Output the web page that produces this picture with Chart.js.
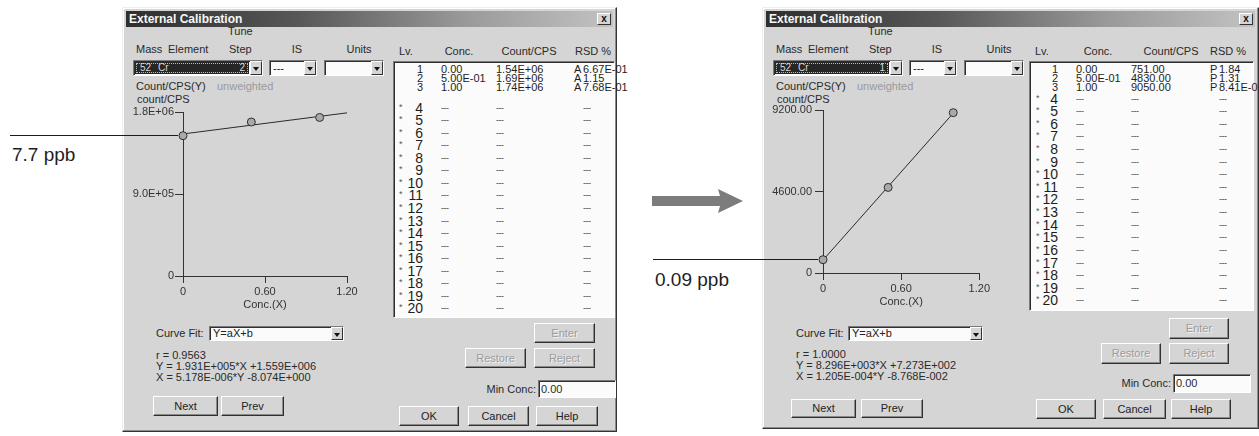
<!DOCTYPE html>
<html>
<head>
<meta charset="utf-8">
<title>External Calibration</title>
<script src="https://cdn.jsdelivr.net/npm/chart.js@4.4.1/dist/chart.umd.min.js"></script>
<style>
  html, body { margin: 0; padding: 0; background: #fff; }
  body { width: 1259px; height: 436px; position: relative; overflow: hidden;
         font-family: Arial, "Liberation Sans", sans-serif; font-size: 11px; color: #2a2a2a; }
  .abs { position: absolute; white-space: nowrap; }
  .dlg { position: absolute; background: #d5d5d5; box-sizing: border-box;
         border: 1px solid; border-color: #eeeeee #353535 #353535 #eeeeee;
         box-shadow: inset -1px -1px 0 #8c8c8c, inset 1px 1px 0 #ffffff; }
  .titlebar { position: absolute; left: 3px; top: 3px; right: 3px; height: 16px; box-sizing: border-box;
              background: linear-gradient(90deg, #2e2e2e 0%, #575757 35%, #9a9a9a 70%, #c2c2c2 100%);
              color: #f6f6f6; font-weight: bold; font-size: 12px; line-height: 16px; padding-left: 3px; }
  .closebtn { position: absolute; right: 2px; top: 2px; width: 14px; height: 12px; box-sizing: border-box;
              background: #d5d5d5; border: 1px solid; border-color: #fff #333 #333 #fff;
              font: bold 10px/9px Arial, sans-serif; text-align: center; color: #111; }
  .btn { position: absolute; box-sizing: border-box; background: #d5d5d5; text-align: center;
         border: 1px solid; border-color: #ffffff #303030 #303030 #ffffff;
         box-shadow: inset -1px -1px 0 #8a8a8a; color: #222; font-size: 11px; }
  .btn.off { color: #9c9c9c; text-shadow: 1px 1px 0 #f2f2f2; }
  .sunk { position: absolute; box-sizing: border-box; background: #fbfbfb;
          border: 1px solid; border-color: #7a7a7a #ffffff #ffffff #7a7a7a;
          box-shadow: inset 1px 1px 0 #2e2e2e; }
  .dropbtn { position: absolute; box-sizing: border-box; background: #d5d5d5;
             border: 1px solid; border-color: #ffffff #303030 #303030 #ffffff; }
  .tri { position: absolute; left: 50%; top: 50%; margin-left: -3px; margin-top: -1px; width: 0; height: 0;
         border-left: 3px solid transparent; border-right: 3px solid transparent; border-top: 4px solid #111; }
  .narrow { font-family: "Liberation Sans Narrow", "Arial Narrow", Arial, sans-serif; }
  .ppb { position: absolute; font-family: "Liberation Sans", Arial, sans-serif; font-size: 19px;
         line-height: 19px; color: #1e1e1e; white-space: nowrap; }
  canvas.plot { position: absolute; z-index: 5; pointer-events: none; }
</style>
</head>
<body>

<canvas id="plotBefore" class="plot" width="380" height="220" style="left:0px;top:100px;width:380px;height:220px"></canvas>
<canvas id="plotAfter" class="plot" width="340" height="220" style="left:652px;top:100px;width:340px;height:220px"></canvas>

<svg class="abs" style="left:648px;top:186px" width="100" height="30" viewBox="0 0 100 30">
  <polygon points="4,10 72,10 70,3 95,15 70,27 72,20 4,20" fill="#7c7c7c"/>
</svg>

<script>
// ---- calibration data ----------------------------------------------------
const levels = [1, 2, 3, 4, 5, 6, 7, 8, 9, 10, 11, 12, 13, 14, 15, 16, 17, 18, 19, 20];
const standardConc = [0.00, 0.50, 1.00];
const concLabels = ["0.00", "5.00E-01", "1.00"];

const countsBefore = [1.54e6, 1.69e6, 1.74e6];
const countLabelsBefore = ["1.54E+06", "1.69E+06", "1.74E+06"];
const flagsBefore = ["A", "A", "A"];
const rsdBefore = ["6.67E-01", "1.15", "7.68E-01"];

const countsAfter = [751.00, 4830.00, 9050.00];
const countLabelsAfter = ["751.00", "4830.00", "9050.00"];
const flagsAfter = ["P", "P", "P"];
const rsdAfter = ["1.84", "1.31", "8.41E-01"];

// fitted line Y = a*X + b for each calibration
const fitSlopes = [1.931e5, 8.296e3];
const fitIntercepts = [1.559e6, 7.273e2];
const fitTextBefore = ["r = 0.9563", "Y = 1.931E+005*X +1.559E+006", "X = 5.178E-006*Y -8.074E+000"];
const fitTextAfter = ["r = 1.0000", "Y = 8.296E+003*X +7.273E+002", "X = 1.205E-004*Y -8.768E-002"];

const xTickValues = [0, 0.6, 1.2];
const xTickLabels = ["0", "0.60", "1.20"];
const yTickValuesBefore = [0, 9.0e5, 1.8e6];
const yTickLabelsBefore = ["0", "9.0E+05", "1.8E+06"];
const yTickValuesAfter = [0, 4600, 9200];
const yTickLabelsAfter = ["0", "4600.00", "9200.00"];

const tuneSteps = ["2", "1"];
const detectionLabels = ["7.7 ppb", "0.09 ppb"];

// ---- small DOM helpers -----------------------------------------------------
function add(parent, cls, css, text) {
  const e = document.createElement('div');
  if (cls) e.className = cls;
  e.style.cssText = css;
  if (text !== undefined) e.textContent = text;
  parent.appendChild(e);
  return e;
}
function txt(p, x, cy, s, extra) { return add(p, 'abs', `left:${x}px;top:${cy - 6.5}px;line-height:13px;${extra || ''}`, s); }
function ctxt(p, cx, cy, s, extra) { return add(p, 'abs', `left:${cx - 60}px;width:120px;text-align:center;top:${cy - 6.5}px;line-height:13px;${extra || ''}`, s); }
function rtxt(p, rx, cy, s, extra) { return add(p, 'abs', `left:${rx - 120}px;width:120px;text-align:right;top:${cy - 6.5}px;line-height:13px;${extra || ''}`, s); }
function button(p, b, label, off) {
  return add(p, 'btn' + (off ? ' off' : ''), `left:${b[0]}px;top:${b[1]}px;width:${b[2]}px;height:${b[3]}px;line-height:${b[3] - 2}px`, label);
}
function combo(p, x, y, w, h, text, dark) {
  const c = add(p, 'sunk', `left:${x}px;top:${y}px;width:${w}px;height:${h}px;`);
  if (text !== undefined && !dark) add(c, 'abs', `left:3px;top:0;line-height:${h - 2}px;font-size:11px;color:#222`, text);
  const d = add(c, 'dropbtn', `right:0;top:0;width:12px;height:${h - 2}px`);
  add(d, 'tri', '');
  return c;
}

// ---- dialog builder --------------------------------------------------------
function buildDialog(L, D) {
  const dlg = add(document.body, 'dlg', `left:${L.x}px;top:${L.y}px;width:${L.w}px;height:${L.h}px`);
  const tb = add(dlg, 'titlebar', '', 'External Calibration');
  add(tb, 'closebtn', '', 'x');

  // selection header
  txt(dlg, 105, 23, 'Tune');
  txt(dlg, 13, 41, 'Mass');
  txt(dlg, 45, 41, 'Element');
  txt(dlg, 106, 41, 'Step');
  ctxt(dlg, 174, 41, 'IS');
  ctxt(dlg, 236, 41, 'Units');

  const c1 = combo(dlg, 10, 52, 130, 16, undefined, true);
  const dark = add(c1, 'abs', 'left:1px;top:1px;width:114px;height:12px;background:#262626;');
  add(dark, 'abs', 'left:1px;top:1px;right:1px;bottom:1px;border:1px dotted #bdbdbd;box-sizing:border-box;');
  add(dark, 'abs', 'left:5px;top:0;line-height:12px;font-size:10px;color:#d8d8d8', '52');
  add(dark, 'abs', 'left:23px;top:0;line-height:12px;font-size:10px;color:#d8d8d8', 'Cr');
  add(dark, 'abs', 'right:4px;top:0;line-height:12px;font-size:10px;color:#d8d8d8', D.tune);
  combo(dlg, 146, 52, 48, 16, '---');
  combo(dlg, 201, 52, 60, 16, '');

  txt(dlg, 13, 78, 'Count/CPS(Y)');
  txt(dlg, 94, 78, 'unweighted', 'color:#9a9a9a');
  txt(dlg, 14, 91, 'count/CPS');

  // level table
  const T = L.table;
  txt(dlg, T.x + 6, 43, 'Lv.');
  ctxt(dlg, T.hConc, 43, 'Conc.');
  ctxt(dlg, T.hCount, 43, 'Count/CPS');
  ctxt(dlg, T.hRsd, 43, 'RSD %');
  add(dlg, 'sunk', `left:${T.x}px;top:${T.y}px;width:${T.w}px;height:${T.h}px`);
  levels.forEach((lv, i) => {
    const filled = i < D.conc.length;
    const cy = filled ? T.rowTop[i] : T.row4 + (i - 3) * T.step;
    const fs = filled ? 11 : 14;
    if (!filled) txt(dlg, T.star, cy - 1, '*', 'font-size:9px;color:#555');
    rtxt(dlg, T.num, cy, String(lv), `font-size:${fs}px;color:#1e1e1e`).classList.add('narrow');
    if (filled) {
      const cell = 'font-size:11px;color:#1e1e1e';
      txt(dlg, T.conc, cy, D.conc[i], cell).classList.add('narrow');
      txt(dlg, T.count, cy, D.counts[i], cell).classList.add('narrow');
      txt(dlg, T.flag, cy, D.flags[i], cell).classList.add('narrow');
      txt(dlg, T.rsd, cy, D.rsd[i], cell).classList.add('narrow');
    } else {
      const dash = 'font-size:9px;color:#444;letter-spacing:-0.5px';
      txt(dlg, T.conc, cy, '---', dash);
      txt(dlg, T.count, cy, '---', dash);
      txt(dlg, T.rsd, cy, '---', dash);
    }
  });

  // right-hand buttons
  const B = L.btn;
  button(dlg, B.enter, 'Enter', true);
  button(dlg, B.restore, 'Restore', true);
  button(dlg, B.reject, 'Reject', true);
  rtxt(dlg, B.minLabel[0], B.minLabel[1], 'Min Conc:');
  const mc = add(dlg, 'sunk', `left:${B.minBox[0]}px;top:${B.minBox[1]}px;width:${B.minBox[2]}px;height:${B.minBox[3]}px`);
  add(mc, 'abs', `left:2px;top:0;line-height:${B.minBox[3] - 2}px`, '0.00');
  button(dlg, B.ok, 'OK');
  button(dlg, B.cancel, 'Cancel');
  button(dlg, B.help, 'Help');

  // curve fit block
  const F = L.fit;
  txt(dlg, 33, F.label, 'Curve Fit:');
  combo(dlg, F.box[0], F.box[1], F.box[2], F.box[3], 'Y=aX+b');
  D.fitText.forEach((s, i) => txt(dlg, 33, F.lines[i], s));
  button(dlg, F.next, 'Next');
  button(dlg, F.prev, 'Prev');
}

buildDialog({
  x: 122, y: 7, w: 495, h: 425,
  table: { x: 270, y: 53, w: 222, h: 257, hConc: 336, hCount: 406, hRsd: 470,
           rowTop: [61, 70, 79], row4: 100, step: 12.56,
           star: 276, num: 300, conc: 318, count: 373, flag: 451, rsd: 460 },
  btn: { enter: [411, 315, 61, 20], restore: [342, 340, 61, 20], reject: [411, 340, 61, 20],
         minLabel: [413, 381], minBox: [415, 372, 78, 18],
         ok: [276, 398, 60, 20], cancel: [345, 398, 61, 20], help: [413, 398, 62, 20] },
  fit: { label: 325, box: [86, 318, 135, 15], lines: [347, 358, 369], next: [30, 388, 65, 20], prev: [98, 388, 63, 20] }
}, { tune: tuneSteps[0], conc: concLabels, counts: countLabelsBefore, flags: flagsBefore, rsd: rsdBefore, fitText: fitTextBefore });

buildDialog({
  x: 762, y: 7, w: 497, h: 422,
  table: { x: 266, y: 53, w: 225, h: 250, hConc: 335, hCount: 408, hRsd: 465,
           rowTop: [61, 70, 79], row4: 91, step: 12.62,
           star: 273, num: 295, conc: 313, count: 368, flag: 447, rsd: 456 },
  btn: { enter: [406, 310, 60, 21], restore: [338, 335, 60, 21], reject: [406, 335, 60, 21],
         minLabel: [408, 375], minBox: [410, 366, 78, 19],
         ok: [273, 391, 60, 20], cancel: [340, 391, 63, 20], help: [408, 391, 60, 20] },
  fit: { label: 325, box: [85, 318, 135, 15], lines: [346, 357, 368], next: [28, 391, 65, 19], prev: [98, 391, 62, 19] }
}, { tune: tuneSteps[1], conc: concLabels, counts: countLabelsAfter, flags: flagsAfter, rsd: rsdAfter, fitText: fitTextAfter });

// detection limit captions
add(document.body, 'ppb', 'left:12px;top:145px', detectionLabels[0]);
add(document.body, 'ppb', 'left:655px;top:270px', detectionLabels[1]);

// ---- calibration plots -----------------------------------------------------
// horizontal leader from the left edge to the blank standard's marker
const leaderLine = {
  id: 'leaderLine',
  afterDatasetsDraw(chart, args, opts) {
    const pt = chart.getDatasetMeta(0).data[0];
    const ctx = chart.ctx;
    const y = Math.round(pt.y) - 0.5;
    ctx.save();
    ctx.strokeStyle = '#1c1c1c';
    ctx.lineWidth = 1;
    ctx.beginPath();
    ctx.moveTo(opts.startX, y);
    ctx.lineTo(pt.x - 5, y);
    ctx.stroke();
    ctx.restore();
  }
};

function drawCalibration(id, counts, slope, intercept, yMax, yTicks, yLabels, L) {
  const axisColor = '#333333';
  const tickFont = { family: 'Arial, "Liberation Sans", sans-serif', size: 11 };
  const xEnds = [xTickValues[0], xTickValues[xTickValues.length - 1]];
  new Chart(document.getElementById(id), {
    type: 'scatter',
    data: {
      datasets: [
        { data: standardConc.map((x, i) => ({ x: x, y: counts[i] })),
          pointRadius: 4, pointBackgroundColor: '#a9a9a9', pointBorderColor: '#2f2f2f',
          pointBorderWidth: 1, showLine: false, clip: false },
        { data: xEnds.map(x => ({ x: x, y: slope * x + intercept })),
          showLine: true, borderColor: '#2a2a2a', borderWidth: 1, pointRadius: 0 }
      ]
    },
    options: {
      responsive: false, animation: false, devicePixelRatio: 1, events: [],
      layout: { padding: { left: 0, top: L.top, right: L.right, bottom: 0 } },
      plugins: { legend: { display: false }, tooltip: { enabled: false },
                 leaderLine: { startX: L.leadX } },
      scales: {
        x: {
          type: 'linear', min: xEnds[0], max: xEnds[1],
          afterBuildTicks: s => { s.ticks = xTickValues.map(v => ({ value: v })); },
          afterFit: s => { s.height = L.xh; },
          ticks: { callback: (v, i) => xTickLabels[i], color: axisColor, font: tickFont,
                   padding: 2, maxRotation: 0, autoSkip: false },
          grid: { drawOnChartArea: false, tickLength: 7, tickColor: axisColor, tickWidth: 1 },
          border: { color: axisColor, width: 1 },
          title: { display: true, text: 'Conc.(X)', color: axisColor, font: tickFont,
                   padding: { top: 0, bottom: L.titleGap } }
        },
        y: {
          type: 'linear', min: 0, max: yMax,
          afterBuildTicks: s => { s.ticks = yTicks.map(v => ({ value: v })); },
          afterFit: s => { s.width = L.yw; },
          ticks: { callback: (v, i) => yLabels[i], color: axisColor, font: tickFont, padding: L.ypad, autoSkip: false },
          grid: { drawOnChartArea: false, tickLength: 8, tickColor: axisColor, tickWidth: 1 },
          border: { color: axisColor, width: 1 }
        }
      }
    },
    plugins: [leaderLine]
  });
}

drawCalibration('plotBefore', countsBefore, fitSlopes[0], fitIntercepts[0],
  yTickValuesBefore[2], yTickValuesBefore, yTickLabelsBefore,
  { top: 12, right: 33, xh: 44, yw: 183, ypad: 1, titleGap: 8, leadX: 10 });
drawCalibration('plotAfter', countsAfter, fitSlopes[1], fitIntercepts[1],
  yTickValuesAfter[2], yTickValuesAfter, yTickLabelsAfter,
  { top: 10, right: 9, xh: 47, yw: 171, ypad: 3, titleGap: 11, leadX: 1 });
</script>
</body>
</html>
